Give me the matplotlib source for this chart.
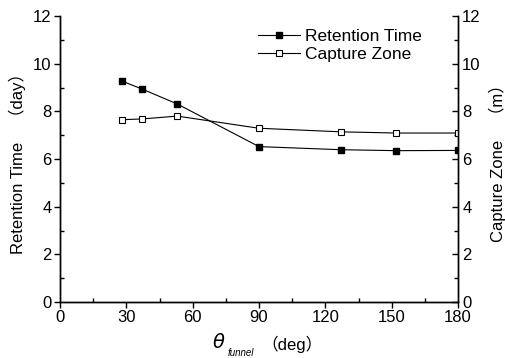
import numpy as np
import matplotlib.pyplot as plt

plt.rcParams['font.family'] = ['Liberation Sans', 'Noto Sans CJK JP', 'DejaVu Sans']

# data
theta = [28, 37, 53, 90, 127, 152, 180]
retention = [9.27, 8.94, 8.31, 6.52, 6.39, 6.35, 6.36]
capture = [7.65, 7.68, 7.80, 7.29, 7.14, 7.09, 7.09]

xticks = [0, 30, 60, 90, 120, 150, 180]
yticks = [0, 2, 4, 6, 8, 10, 12]

fig = plt.figure(figsize=(5.05, 3.58), dpi=100)
ax = fig.add_axes([0.1188, 0.1564, 0.7882, 0.7989])
ax2 = ax.twinx()

l1, = ax.plot(theta, retention, '-s', color='black', lw=0.8, ms=5,
              mfc='black', mec='black', label='Retention Time')
l2, = ax2.plot(theta, capture, '-s', color='black', lw=0.8, ms=5,
               mfc='white', mec='black', mew=0.8, label='Capture Zone')

ax.set_xlim(0, 180)
ax.set_ylim(0, 12)
ax2.set_ylim(0, 12)
ax.set_xticks(xticks)
ax.set_yticks(yticks)
ax2.set_yticks(yticks)
ax.set_xticks(np.arange(15, 180, 30), minor=True)
ax.set_yticks(np.arange(1, 12, 2), minor=True)
ax2.set_yticks(np.arange(1, 12, 2), minor=True)

for a in (ax, ax2):
    a.spines['top'].set_visible(False)
    for s in a.spines.values():
        s.set_linewidth(1.0)
ax.tick_params(which='major', direction='out', length=4, width=1, labelsize=12, pad=2)
ax.tick_params(which='minor', direction='in', length=3, width=1)
ax2.tick_params(which='major', direction='in', length=4, width=1, labelsize=12, pad=3)
ax2.tick_params(which='minor', direction='in', length=3, width=1)

ax.set_ylabel('Retention Time\u3000（day）', fontsize=12)
ax.yaxis.set_label_coords(-0.086, 0.5)
ax2.set_ylabel('Capture Zone\u3000（m）', fontsize=12)
ax2.yaxis.set_label_coords(1.076, 0.5)

# x label: theta with subscript, then unit
ax.text(0.415, -0.143, r'$\theta$', transform=ax.transAxes, fontsize=14,
        ha='right', va='center')
ax.text(0.422, -0.178, 'funnel', transform=ax.transAxes, fontsize=7,
        style='italic', ha='left', va='center')
ax.text(0.505, -0.148, '（deg）', transform=ax.transAxes, fontsize=12,
        ha='left', va='center')

ax.legend(handles=[l1, l2], loc='upper left', bbox_to_anchor=(0.472, 0.99),
          frameon=False, fontsize=12.5, handlelength=2.4, handletextpad=0.3,
          labelspacing=0.12, borderaxespad=0.2, markerscale=0.9)

fig.savefig('out.png', dpi=100)
